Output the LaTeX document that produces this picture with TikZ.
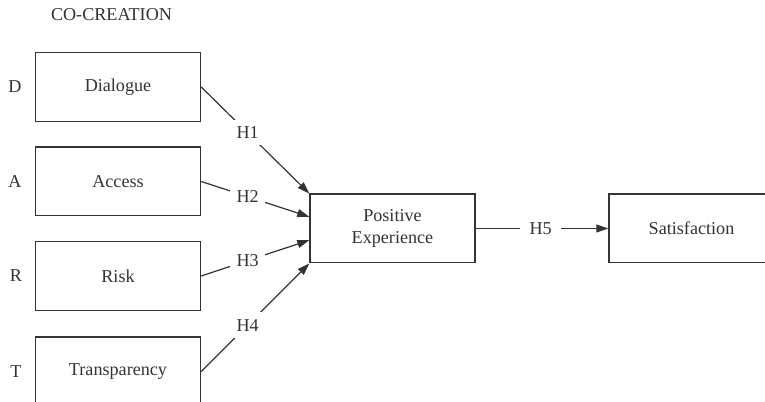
\documentclass[tikz,border=0pt]{standalone}
\usepackage{fontspec}
\setmainfont{Liberation Serif}
\usetikzlibrary{arrows.meta,calc}
\definecolor{ink}{HTML}{333333}
\begin{document}
\begin{tikzpicture}[x=0.75pt,y=-0.75pt,
  every node/.style={font=\fontsize{13.6}{16.5}\selectfont, text=ink},
  construct/.style={draw=ink, line width=1.1pt, minimum width=123.75pt,
    minimum height=51.4pt, inner sep=2pt, align=center},
  tag/.style={inner sep=0pt},
  link/.style={draw=ink, line width=0.9pt,
    -{Triangle[length=9pt,width=6pt]}},
  hyp/.style={fill=white, inner sep=5pt}]
  \clip (0,0) rectangle (765,402);
  \fill[white] (0,0) rectangle (765,402);

  \node[tag] (title) at (111.5,15) {CO-CREATION};

  % antecedent constructs
  \node[construct] (d) at (118,87)    {Dialogue};
  \node[construct] (a) at (118,181.5) {Access};
  \node[construct] (r) at (118,276)   {Risk};
  \node[construct] (t) at (118,371.5) {Transparency};

  \node[tag] (dl) at (15,87)    {D};
  \node[tag] (al) at (15,181.5) {A};
  \node[tag] (rl) at (16,276)   {R};
  \node[tag] (tl) at (16,371.5) {T};

  % mediator and outcome
  \node[construct] (pe) at (392.5,228.5) {Positive\\Experience};
  \node[construct] (s)  at (691.5,228.5) {Satisfaction};

  \coordinate (p1) at (pe.north west);
  \coordinate (p2) at ($(pe.north west)!1/3!(pe.south west)$);
  \coordinate (p3) at ($(pe.north west)!2/3!(pe.south west)$);
  \coordinate (p4) at (pe.south west);

  \draw[link] (d.east) -- node[hyp, pos=0.43] {H1} (p1);
  \draw[link] (a.east) -- node[hyp, pos=0.43] {H2} (p2);
  \draw[link] (r.east) -- node[hyp, pos=0.43] {H3} (p3);
  \draw[link] (t.east) -- node[hyp, pos=0.43] {H4} (p4);
  \draw[link] (pe.east) -- node[hyp, pos=0.49, inner sep=7pt] {H5} (s.west);
\end{tikzpicture}
\end{document}
